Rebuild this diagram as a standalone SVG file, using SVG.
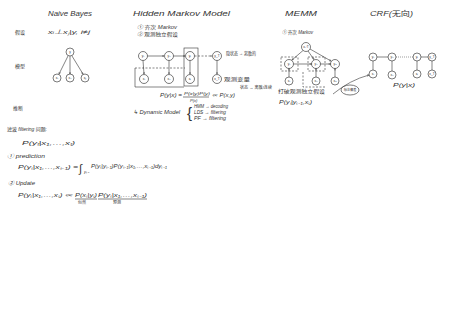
<svg xmlns="http://www.w3.org/2000/svg" width="450" height="321" viewBox="0 0 450 321">
<style>
  text { font-family: "Liberation Sans", "Noto Sans CJK SC", sans-serif; fill: #333333; font-size: 5px; font-style: italic; }
  .cjk { font-style: normal; }
  .title { font-size: 7px; }
  .big { font-size: 6px; }
  .tiny { font-size: 4px; }
  .n circle, .n ellipse { fill: none; stroke: #333333; stroke-width: 0.65; }
  .n text { font-size: 3.2px; text-anchor: middle; font-style: normal; }
  .e { stroke: #333333; stroke-width: 0.6; fill: none; }
  .arr { marker-end: url(#ah); }
  .dash { stroke-dasharray: 2 1.5; }
  .dot { stroke-dasharray: 0.8 1.2; }
</style>
<defs>
  <marker id="ah" viewBox="0 0 6 6" refX="5.5" refY="3" markerWidth="4" markerHeight="4" orient="auto">
    <path d="M0,0.5 L6,3 L0,5.5" fill="none" stroke="#333333" stroke-width="1"/>
  </marker>
</defs>
<rect width="450" height="321" fill="#ffffff"/>

<!-- row labels -->
<g id="row-labels">
  <text class="cjk" x="15" y="34">假设</text>
  <text class="cjk" x="15" y="68">模型</text>
  <text class="cjk" x="13" y="110">推断</text>
</g>

<!-- Naive Bayes -->
<g id="naive-bayes-text">
  <text class="title" x="48" y="16" textLength="44" lengthAdjust="spacingAndGlyphs">Naive Bayes</text>
  <text class="big" x="48" y="34" textLength="42" lengthAdjust="spacingAndGlyphs">xᵢ⊥xⱼ|y, i≠j</text>
</g>
<g id="nb-y" class="n"><circle cx="70" cy="52" r="4"/><text x="70" y="53">y</text></g>
<g id="nb-x1" class="n"><circle cx="57" cy="78" r="4"/><text x="57" y="79">x₁</text></g>
<g id="nb-x2" class="n"><circle cx="70" cy="78" r="4"/><text x="70" y="79">x₂</text></g>
<g id="nb-x3" class="n"><circle cx="85" cy="78" r="4"/><text x="85" y="79">xₚ</text></g>

<!-- Hidden Markov Model -->
<g id="hmm-text">
  <text class="title" x="133" y="16" textLength="97" lengthAdjust="spacingAndGlyphs">Hidden Markov Model</text>
  <text x="137" y="29" textLength="40" lengthAdjust="spacingAndGlyphs">① <tspan class="cjk">齐次</tspan> Markov</text>
  <text x="137" y="36" textLength="41" lengthAdjust="spacingAndGlyphs">② <tspan class="cjk">观测独立假设</tspan></text>
  <text class="cjk" x="226" y="55" textLength="30" lengthAdjust="spacingAndGlyphs">隐状态 → 离散的</text>
  <text class="cjk" x="224" y="81" textLength="26" lengthAdjust="spacingAndGlyphs">观测变量</text>
  <text class="cjk tiny" x="240" y="89" textLength="32" lengthAdjust="spacingAndGlyphs">状态 → 离散/连续</text>
  <text x="160" y="97" textLength="22" lengthAdjust="spacingAndGlyphs">P(y|x) =</text>
  <text class="tiny" x="184" y="95" textLength="26" lengthAdjust="spacingAndGlyphs">P(x|y)P(y)</text>
  <text class="tiny" x="190" y="102">P(x)</text>
  <text x="212" y="97" textLength="23" lengthAdjust="spacingAndGlyphs">∝ P(x,y)</text>
  <text class="big" x="133" y="114" textLength="47" lengthAdjust="spacingAndGlyphs">↳ Dynamic Model</text>
  <text style="font-size:15px;font-style:normal" x="187" y="118">{</text>
  <text x="194" y="108" textLength="34" lengthAdjust="spacingAndGlyphs">HMM → decoding</text>
  <text x="194" y="114" textLength="32" lengthAdjust="spacingAndGlyphs">LDS → filtering</text>
  <text x="194" y="120" textLength="32" lengthAdjust="spacingAndGlyphs">PF → filtering</text>
</g>
<g id="hmm-y1" class="n"><circle cx="143" cy="56" r="4.5"/><text x="143" y="57">y₁</text></g>
<g id="hmm-y2" class="n"><circle cx="169" cy="56" r="4.5"/><text x="169" y="57">y₂</text></g>
<g id="hmm-yt" class="n"><circle cx="190" cy="56" r="4.5"/><text x="190" y="57">yₜ</text></g>
<g id="hmm-yT" class="n"><circle cx="217" cy="56" r="4.5"/><text x="217" y="57">y_T</text></g>
<g id="hmm-x1" class="n"><circle cx="144" cy="79" r="4.5"/><text x="144" y="80">x₁</text></g>
<g id="hmm-x2" class="n"><circle cx="169" cy="79" r="4.5"/><text x="169" y="80">x₂</text></g>
<g id="hmm-xt" class="n"><circle cx="190" cy="79" r="4.5"/><text x="190" y="80">xₜ</text></g>
<g id="hmm-xT" class="n"><circle cx="217" cy="79" r="4.5"/><text x="217" y="80">x_T</text></g>

<!-- MEMM -->
<g id="memm-text">
  <text class="title" x="285" y="16" textLength="32" lengthAdjust="spacingAndGlyphs">MEMM</text>
  <text x="282" y="34" textLength="31" lengthAdjust="spacingAndGlyphs">① <tspan class="cjk">齐次</tspan> Markov</text>
  <text class="cjk" x="278" y="93" textLength="47" lengthAdjust="spacingAndGlyphs">打破观测独立假设</text>
  <text x="279" y="104" textLength="33" lengthAdjust="spacingAndGlyphs">P(yₜ|yₜ₋₁,xₜ)</text>
</g>
<g id="memm-x" class="n"><circle cx="306" cy="47" r="4.5"/><text x="306" y="48">x₁:T</text></g>
<g id="memm-y1" class="n"><circle cx="289" cy="64" r="4.5"/><text x="289" y="65">y₁</text></g>
<g id="memm-y2" class="n"><circle cx="316" cy="64" r="4.5"/><text x="316" y="65">y₂</text></g>
<g id="memm-y3" class="n"><circle cx="335" cy="64" r="4.5"/><text x="335" y="65">y₃</text></g>
<g id="memm-x1" class="n"><circle cx="289" cy="81" r="4"/><text x="289" y="82">x₁</text></g>
<g id="memm-x2" class="n"><circle cx="316" cy="81" r="4"/><text x="316" y="82">x₂</text></g>
<g id="memm-x3" class="n"><circle cx="335" cy="81" r="4"/><text x="335" y="82">x₃</text></g>
<g id="label-bias" class="n"><ellipse cx="350" cy="90" rx="9" ry="5"/><text class="cjk" x="350" y="91.2">标注偏差</text></g>

<!-- CRF -->
<g id="crf-text">
  <text class="title" x="370" y="16" textLength="43" lengthAdjust="spacingAndGlyphs">CRF(<tspan class="cjk">无向</tspan>)</text>
  <text x="393" y="87" textLength="22" lengthAdjust="spacingAndGlyphs">P(y|x)</text>
</g>
<g id="crf-y1" class="n"><circle cx="373" cy="57" r="4"/><text x="373" y="58">y₁</text></g>
<g id="crf-y2" class="n"><circle cx="392" cy="57" r="4"/><text x="392" y="58">y₂</text></g>
<g id="crf-y3" class="n"><circle cx="417" cy="57" r="4"/><text x="417" y="58">yₜ</text></g>
<g id="crf-y4" class="n"><circle cx="432" cy="57" r="4"/><text x="432" y="58">y_T</text></g>
<g id="crf-x1" class="n"><circle cx="373" cy="74" r="4"/><text x="373" y="75">x₁</text></g>
<g id="crf-x2" class="n"><circle cx="392" cy="75" r="4"/><text x="392" y="76">x₂</text></g>
<g id="crf-x3" class="n"><circle cx="417" cy="74" r="4"/><text x="417" y="75">xₜ</text></g>
<g id="crf-x4" class="n"><circle cx="432" cy="74" r="4"/><text x="432" y="75">x_T</text></g>

<!-- filtering -->
<g id="filtering">
  <text x="7" y="131" textLength="40" lengthAdjust="spacingAndGlyphs"><tspan class="cjk">滤波</tspan> filtering <tspan class="cjk">问题:</tspan></text>
  <text class="big" x="22" y="145" textLength="53" lengthAdjust="spacingAndGlyphs">P(yₜ|x₁,…,xₜ)</text>
  <text class="big" x="7" y="158" textLength="38" lengthAdjust="spacingAndGlyphs">① prediction</text>
  <text x="18" y="169" textLength="60" lengthAdjust="spacingAndGlyphs">P(yₜ|x₁,…,xₜ₋₁) =</text>
  <text style="font-size:11px" x="79" y="172">∫</text>
  <text class="tiny" x="84" y="173">yₜ₋₁</text>
  <text x="91" y="168" textLength="76" lengthAdjust="spacingAndGlyphs">P(yₜ|yₜ₋₁)P(yₜ₋₁|x₁,…,xₜ₋₁)dyₜ₋₁</text>
  <text class="big" x="8" y="185" textLength="27" lengthAdjust="spacingAndGlyphs">② Update</text>
  <text x="18" y="197" textLength="55" lengthAdjust="spacingAndGlyphs">P(yₜ|x₁,…,xₜ) ∝</text>
  <text x="75" y="197" textLength="22" lengthAdjust="spacingAndGlyphs">P(xₜ|yₜ)</text>
  <text x="98" y="197" textLength="49" lengthAdjust="spacingAndGlyphs">P(yₜ|x₁,…,xₜ₋₁)</text>
  <text class="cjk tiny" x="78" y="204">似然</text>
  <text class="cjk tiny" x="113" y="204">预测</text>
</g>

<!-- connectors -->
<g id="connectors">
  <!-- naive bayes -->
  <line class="e arr" x1="68" y1="56" x2="59" y2="74"/>
  <line class="e arr" x1="70" y1="56" x2="70" y2="74"/>
  <line class="e arr" x1="72" y1="56" x2="83" y2="74"/>
  <!-- hmm chain -->
  <line class="e arr" x1="147.5" y1="56" x2="164" y2="56"/>
  <line class="e arr" x1="173.5" y1="56" x2="185" y2="56"/>
  <line class="e arr dash" x1="194.5" y1="56" x2="212" y2="56"/>
  <line class="e arr" x1="143" y1="60.5" x2="144" y2="74"/>
  <line class="e arr" x1="169" y1="60.5" x2="169" y2="74"/>
  <line class="e arr" x1="190" y1="60.5" x2="190" y2="74"/>
  <line class="e arr" x1="217" y1="60.5" x2="217" y2="74"/>
  <line class="e dash" x1="135" y1="68" x2="185" y2="68"/>
  <polyline class="e" points="135,68 135,87 184,87"/>
  <rect class="e" x="184" y="48" width="14" height="38"/>
  <!-- fraction bar -->
  <line class="e" x1="183" y1="97" x2="209" y2="97"/>
  <!-- memm -->
  <line class="e arr" x1="303" y1="50.5" x2="292" y2="60"/>
  <line class="e arr" x1="308" y1="51" x2="314" y2="59.5"/>
  <line class="e arr" x1="310" y1="49" x2="331" y2="61"/>
  <line class="e arr" x1="293.5" y1="64" x2="311.5" y2="64"/>
  <line class="e arr" x1="320.5" y1="64" x2="330.5" y2="64"/>
  <line class="e arr" x1="289" y1="77" x2="289" y2="68.5"/>
  <line class="e arr" x1="316" y1="77" x2="316" y2="68.5"/>
  <line class="e arr" x1="335" y1="77" x2="335" y2="68.5"/>
  <rect class="e dash" x="281" y="57" width="17" height="14"/>
  <rect class="e dash" x="308" y="57" width="17" height="14"/>
  <polyline class="e dash" points="303,72 303,87 325,87"/>
  <path class="e arr" d="M333,94 Q350,80 369,75"/>
  <!-- crf -->
  <line class="e" x1="377" y1="57" x2="388" y2="57"/>
  <line class="e dot" x1="396" y1="57" x2="413" y2="57"/>
  <line class="e" x1="421" y1="57" x2="428" y2="57"/>
  <line class="e" x1="373" y1="61" x2="373" y2="70"/>
  <line class="e" x1="392" y1="61" x2="392" y2="71"/>
  <line class="e" x1="417" y1="61" x2="417" y2="70"/>
  <line class="e" x1="432" y1="61" x2="432" y2="70"/>
  <!-- update underlines -->
  <line class="e" x1="75" y1="199" x2="97" y2="199"/>
  <line class="e" x1="98" y1="199" x2="147" y2="199"/>
</g>
</svg>
